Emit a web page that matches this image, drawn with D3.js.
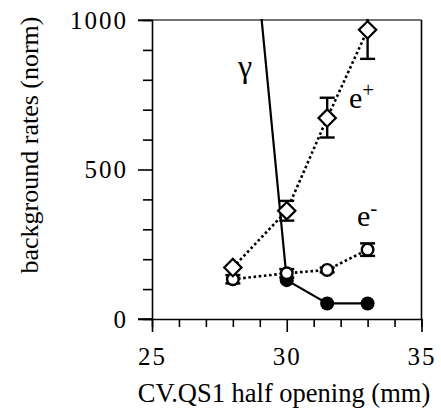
<!DOCTYPE html>
<html><head><meta charset="utf-8">
<script src="https://cdn.jsdelivr.net/npm/d3@7"></script>
<style>body{margin:0;background:#fff}svg{display:block}</style>
</head><body>
<svg id="c" width="441" height="409"></svg>
<script>
const xValues = [28, 30, 31.5, 33];
const ePlus = [172, 362, 672, 967];
const ePlusErrLo = [0, 33, 65, 97];
const ePlusErrHi = [0, 33, 68, 97];
const eMinus = [133, 153, 164, 232];
const eMinusErr = [14, 14, 8, 21];
const gammaX = [28, 30, 31.5, 33];
const gamma = [2000, 130, 52, 52];
const xTicks = [25, 30, 35];
const yTicks = [0, 500, 1000];

const SERIF = '"Liberation Serif", "Times New Roman", Times, serif';
const svg = d3.select("#c");
const x = d3.scaleLinear().domain([25, 35]).range([152, 421.5]);
const y = d3.scaleLinear().domain([0, 1000]).range([319, 20]);

svg.append("clipPath").attr("id","clip").append("rect")
  .attr("x", 152).attr("y", 19).attr("width", 270).attr("height", 301);

// frame top & right
svg.append("line").attr("x1",138).attr("x2",x(35)).attr("y1",y(1000)).attr("y2",y(1000)).attr("stroke","#444").attr("stroke-width",1.6);
svg.append("line").attr("x1",x(35)).attr("x2",x(35)).attr("y1",y(1000)).attr("y2",y(0)).attr("stroke","#000").attr("stroke-width",1.6);

// axes
const yAxis = d3.axisLeft(y).tickValues(d3.range(0, 1001, 100)).tickSizeOuter(0)
  .tickSize(9).tickFormat(d => yTicks.includes(d) ? d : "");
const gy = svg.append("g").attr("transform", `translate(${x(25)},0)`).call(yAxis);
gy.selectAll(".tick line").attr("x2", d => yTicks.includes(d) ? -14 : -9);
gy.selectAll(".tick text").attr("x", -24).attr("dy","0.33em").style("letter-spacing","2px");
const xAxis = d3.axisBottom(x).tickValues(d3.range(25, 35.01, 1)).tickSizeOuter(0)
  .tickSize(8).tickFormat(d => xTicks.includes(d) ? d : "");
const gx = svg.append("g").attr("transform", `translate(0,${y(0)})`).call(xAxis);
gx.selectAll(".tick line").attr("y2", d => xTicks.includes(d) ? 13 : 8);
gx.selectAll(".tick text").attr("y", 28).attr("dy","0.71em").style("letter-spacing","2px");
[gx, gy].forEach(g => {
  g.attr("font-family", SERIF).attr("font-size", 25);
  g.selectAll("path.domain").attr("stroke","#000").attr("stroke-width",1.6);
  g.selectAll(".tick line").attr("stroke","#000").attr("stroke-width",1.6);
  g.selectAll("text").style("font-family", SERIF).style("font-size","25px").attr("fill","#000");
});
// bottom axis extension to left
svg.append("line").attr("x1",138).attr("x2",x(25)).attr("y1",y(0)).attr("y2",y(0)).attr("stroke","#000").attr("stroke-width",1.6);

const plot = svg.append("g").attr("clip-path","url(#clip)");

// gamma line
plot.append("path").datum(gammaX.map((d,i)=>[d,gamma[i]]))
  .attr("d", d3.line().x(d=>x(d[0])).y(d=>y(d[1])))
  .attr("fill","none").attr("stroke","#000").attr("stroke-width",2.2);

// dotted lines
const dotted = (vals) => plot.append("path").datum(xValues.map((d,i)=>[d,vals[i]]))
  .attr("d", d3.line().x(d=>x(d[0])).y(d=>y(d[1])))
  .attr("fill","none").attr("stroke","#000").attr("stroke-width",2.6).attr("stroke-dasharray","2.6,2.6");
dotted(ePlus);
dotted(eMinus);

// error bars
function errBars(vals, lo, hi) {
  xValues.forEach((xv, i) => {
    if (!lo[i] && !hi[i]) return;
    const g = plot.append("g").attr("stroke","#000").attr("stroke-width",2.4);
    const y0 = y(vals[i] - lo[i]), y1 = y(vals[i] + hi[i]);
    g.append("line").attr("x1",x(xv)).attr("x2",x(xv)).attr("y1",y0).attr("y2",y1);
    g.append("line").attr("x1",x(xv)-7.5).attr("x2",x(xv)+7.5).attr("y1",y0).attr("y2",y0);
    g.append("line").attr("x1",x(xv)-7.5).attr("x2",x(xv)+7.5).attr("y1",y1).attr("y2",y1);
  });
}
errBars(ePlus, ePlusErrLo, ePlusErrHi);
errBars(eMinus, eMinusErr, eMinusErr);

// gamma markers
plot.selectAll("circle.g").data(gammaX.map((d,i)=>[d,gamma[i]])).enter().append("circle")
  .attr("cx",d=>x(d[0])).attr("cy",d=>y(d[1])).attr("r",7).attr("fill","#000");

// e- markers
plot.selectAll("circle.m").data(xValues.map((d,i)=>[d,eMinus[i]])).enter().append("circle")
  .attr("cx",d=>x(d[0])).attr("cy",d=>y(d[1])).attr("r",5.8).attr("fill","#fff").attr("stroke","#000").attr("stroke-width",2.4);

// e+ markers (diamonds)
const dia = d3.symbol().type(d3.symbolSquare).size(150);
plot.selectAll("path.p").data(xValues.map((d,i)=>[d,ePlus[i]])).enter().append("path")
  .attr("d", dia).attr("transform", d=>`translate(${x(d[0])},${y(d[1])}) rotate(45)`)
  .attr("fill","#fff").attr("stroke","#000").attr("stroke-width",2.2);

// labels
const T = (sel) => sel.style("font-family", SERIF).attr("fill","#000");
T(svg.append("text").attr("x",238).attr("y",77).style("font-size","32px").text("γ"));
const tp = T(svg.append("text").attr("x",349).attr("y",108).style("font-size","30px"));
tp.append("tspan").text("e");
tp.append("tspan").attr("dy",-11).style("font-size","21px").text("+");
const tm = T(svg.append("text").attr("x",357).attr("y",226).style("font-size","30px"));
tm.append("tspan").text("e");
tm.append("tspan").attr("dy",-11).style("font-size","21px").text("-");

T(svg.append("text").attr("x", 284).attr("y", 402).attr("text-anchor","middle")
  .style("font-size","26.5px").text("CV.QS1 half opening (mm)"));
T(svg.append("text").attr("transform","translate(38,145) rotate(-90)").attr("text-anchor","middle")
  .style("font-size","26px").text("background rates (norm)"));
</script>
</body></html>
